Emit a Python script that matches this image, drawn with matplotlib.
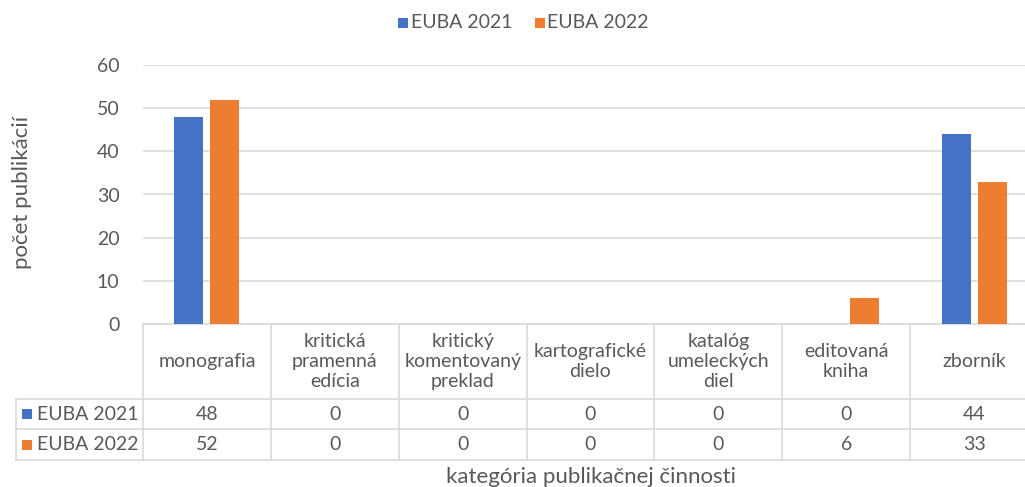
import matplotlib.pyplot as plt
import matplotlib.transforms as mtransforms
from matplotlib.patches import Rectangle
import numpy as np

plt.rcParams['font.family'] = ['Lato', 'DejaVu Sans']

categories = ['monografia', 'kritická\npramenná\nedícia', 'kritický\nkomentovaný\npreklad',
              'kartografické\ndielo', 'katalóg\numeleckých\ndiel', 'editovaná\nkniha', 'zborník']
series = ['EUBA 2021', 'EUBA 2022']
euba_2021 = [48, 0, 0, 0, 0, 0, 44]
euba_2022 = [52, 0, 0, 0, 0, 6, 33]
colors = ['#4472c4', '#ed7d31']
yticks = [0, 10, 20, 30, 40, 50, 60]

W, H = 1025, 487
txt = '#595959'
grid = '#d9d9d9'
fs = 14

fig = plt.figure(figsize=(W / 100, H / 100), dpi=100)
# plot area runs past the right edge of the picture, as in the reference
ax = fig.add_axes([143 / W, 1 - 324 / H, 895 / W, (324 - 65) / H])

def fy(py):
    return 1 - py / H

x = np.arange(len(categories))
w = 0.227
ax.bar(x - 0.141, euba_2021, w, color=colors[0], zorder=3)
ax.bar(x + 0.141, euba_2022, w, color=colors[1], zorder=3)

ax.set_xlim(-0.5, len(categories) - 0.5)
ax.set_ylim(0, 60)
ax.set_yticks(yticks)
ax.yaxis.grid(True, color=grid, linewidth=1.2)
ax.tick_params(axis='y', length=0, labelsize=fs, labelcolor=txt, pad=17)
ax.set_xticks([])
for s in ['top', 'right', 'left', 'bottom']:
    ax.spines[s].set_visible(False)

fig.text(22 / W, fy(192), 'počet publikácií', rotation=90, ha='center', va='center',
         fontsize=16, color=txt)

# data table below the axis, x in data coords, y in figure pixels
tr = mtransforms.blended_transform_factory(ax.transData, fig.transFigure)
trf = fig.transFigure

y_top, y_head, y_r1, y_r2 = 324, 399, 429, 460
x0, x1 = -0.5, len(categories) - 0.5
lw = 1.2
for yy in [y_top, y_head, y_r1, y_r2]:
    ax.plot([x0, x1], [fy(yy)] * 2, transform=tr, color=grid, lw=lw, clip_on=False)
for yy in [y_head, y_r1, y_r2]:
    fig.add_artist(plt.Line2D([16 / W, 143 / W], [fy(yy)] * 2, transform=trf, color=grid, lw=lw))
fig.add_artist(plt.Line2D([16 / W, 16 / W], [fy(y_head), fy(y_r2)], transform=trf, color=grid, lw=lw))
for i in range(len(categories) + 1):
    ax.plot([i - 0.5] * 2, [fy(y_top), fy(y_r2)], transform=tr, color=grid, lw=lw, clip_on=False)

for i, c in enumerate(categories):
    ax.text(i, fy((y_top + y_head) / 2), c, transform=tr, ha='center', va='center',
            fontsize=fs, color=txt, linespacing=1.2)
    ax.text(i, fy((y_head + y_r1) / 2), str(euba_2021[i]), transform=tr, ha='center',
            va='center', fontsize=fs, color=txt)
    ax.text(i, fy((y_r1 + y_r2) / 2), str(euba_2022[i]), transform=tr, ha='center',
            va='center', fontsize=fs, color=txt)

for k, (name, col) in enumerate(zip(series, colors)):
    yc = (y_head + y_r1) / 2 if k == 0 else (y_r1 + y_r2) / 2
    fig.add_artist(Rectangle((22 / W, fy(yc + 5)), 10 / W, 10 / H, transform=trf,
                             facecolor=col, edgecolor='none'))
    fig.text(37 / W, fy(yc), name, color=txt, fontsize=fs, ha='left', va='center')

fig.text(591 / W, fy(483), 'kategória publikačnej činnosti', ha='center', va='baseline',
         fontsize=16, color=txt)

# legend
for xs, xt, name, col in [(398, 411, series[0], colors[0]), (535, 547, series[1], colors[1])]:
    fig.add_artist(Rectangle((xs / W, fy(28)), 10 / W, 10 / H, transform=trf,
                             facecolor=col, edgecolor='none'))
    fig.text(xt / W, fy(23), name, color=txt, fontsize=fs, va='center')

fig.savefig('out.png', dpi=100)
